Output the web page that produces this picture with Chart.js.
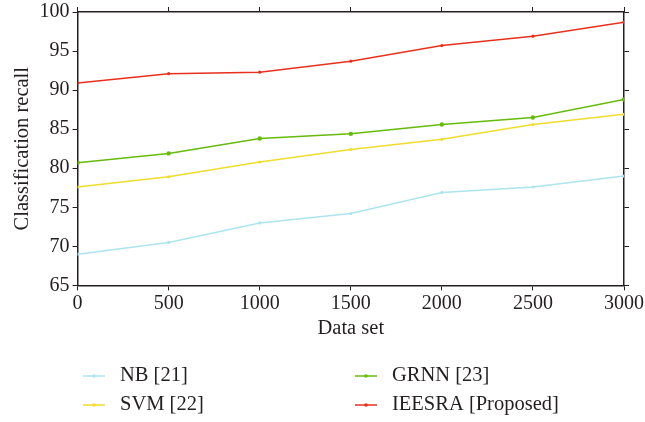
<!DOCTYPE html>
<html>
<head>
<meta charset="utf-8">
<script src="https://cdn.jsdelivr.net/npm/chart.js@4.4.1/dist/chart.umd.min.js"></script>
<style>
  html, body { margin: 0; padding: 0; background: #fff; }
  #wrap { width: 645px; height: 422px; }
</style>
</head>
<body>
<div id="wrap"><canvas id="myChart" width="645" height="422"></canvas></div>
<script>
// data
var dataSet = [0, 500, 1000, 1500, 2000, 2500, 3000];
var nb = [69.0, 70.5, 73.0, 74.2, 76.9, 77.6, 79.0];
var svm = [77.6, 78.9, 80.8, 82.4, 83.7, 85.6, 86.9];
var grnn = [80.7, 81.9, 83.8, 84.4, 85.6, 86.5, 88.8];
var ieesra = [90.9, 92.1, 92.3, 93.7, 95.7, 96.9, 98.7];
var names = ["NB [21]", "SVM [22]", "GRNN [23]", "IEESRA [Proposed]"];
var colors = ["#ade4f0", "#f0dc2c", "#66bb0a", "#e8301c"];
var yTicks = [65, 70, 75, 80, 85, 90, 95, 100];

var serif = "'Liberation Serif', 'DejaVu Serif', serif";

function pts(arr) {
  return arr.map(function (v, i) { return { x: dataSet[i], y: v }; });
}

// two-column legend under the axis title
var legendPlugin = {
  id: "colLegend",
  afterDraw: function (chart) {
    var ctx = chart.ctx;
    var colX = [83, 355];
    var rowY = [376, 405];
    ctx.save();
    chart.data.datasets.forEach(function (ds, k) {
      var x = colX[Math.floor(k / 2)];
      var y = rowY[k % 2];
      ctx.strokeStyle = ds.borderColor;
      ctx.lineWidth = 1.5;
      ctx.beginPath();
      ctx.moveTo(x, y);
      ctx.lineTo(x + 22, y);
      ctx.stroke();
      ctx.fillStyle = ds.borderColor;
      ctx.beginPath();
      ctx.arc(x + 11, y, 1.8, 0, Math.PI * 2);
      ctx.fill();
      ctx.fillStyle = "#231f20";
      ctx.font = "20.5px " + serif;
      ctx.textBaseline = "middle";
      ctx.fillText(ds.label, x + 37, y);
    });
    ctx.restore();
  }
};

const ctx = document.getElementById("myChart");

new Chart(ctx, {
  type: "line",
  data: {
    datasets: [
      { label: names[0], data: pts(nb), borderColor: colors[0], backgroundColor: colors[0] },
      { label: names[1], data: pts(svm), borderColor: colors[1], backgroundColor: colors[1] },
      { label: names[2], data: pts(grnn), borderColor: colors[2], backgroundColor: colors[2], pointRadius: 2.2 },
      { label: names[3], data: pts(ieesra), borderColor: colors[3], backgroundColor: colors[3] }
    ]
  },
  options: {
    responsive: false,
    animation: false,
    devicePixelRatio: 1,
    layout: { padding: { left: 6, right: 12, top: 7, bottom: 77 } },
    elements: {
      line: { borderWidth: 1.5, tension: 0, fill: false },
      point: { radius: 1.6, borderWidth: 0, hoverRadius: 2 }
    },
    plugins: {
      legend: { display: false },
      tooltip: { enabled: false }
    },
    scales: {
      x: {
        type: "linear",
        position: "bottom",
        min: 0,
        max: 3000,
        afterBuildTicks: function (s) { s.ticks = dataSet.map(function (v) { return { value: v }; }); },
        border: { color: "#231f20", width: 1.5 },
        grid: { drawOnChartArea: false, tickLength: 5, color: "#231f20" },
        ticks: { color: "#231f20", font: { family: serif, size: 20 }, padding: 1, maxRotation: 0,
          callback: function (v) { return String(v); } },
        title: { display: true, text: "Data set", color: "#231f20", font: { family: serif, size: 20.5 }, padding: { top: 0 } }
      },
      x2: {
        type: "linear",
        position: "top",
        min: 0,
        max: 3000,
        afterBuildTicks: function (s) { s.ticks = dataSet.map(function (v) { return { value: v }; }); },
        border: { color: "#231f20", width: 1.5 },
        grid: { drawOnChartArea: false, tickLength: 5, color: "#231f20" },
        ticks: { display: false }
      },
      y: {
        position: "left",
        min: 65,
        max: 100,
        afterBuildTicks: function (s) { s.ticks = yTicks.map(function (v) { return { value: v }; }); },
        afterFit: function (s) { s.paddingTop = 0; s.paddingBottom = 0; },
        border: { color: "#231f20", width: 1.5 },
        grid: { drawOnChartArea: false, tickLength: 5, color: "#231f20" },
        ticks: { color: "#231f20", font: { family: serif, size: 20 }, padding: 3 },
        title: { display: true, text: "Classification recall", color: "#231f20", font: { family: serif, size: 20.5 }, padding: { bottom: 2 } }
      },
      y2: {
        position: "right",
        min: 65,
        max: 100,
        afterBuildTicks: function (s) { s.ticks = yTicks.map(function (v) { return { value: v }; }); },
        border: { color: "#231f20", width: 1.5 },
        grid: { drawOnChartArea: false, tickLength: 5, color: "#231f20" },
        ticks: { display: false }
      }
    }
  },
  plugins: [legendPlugin]
});
</script>
</body>
</html>
